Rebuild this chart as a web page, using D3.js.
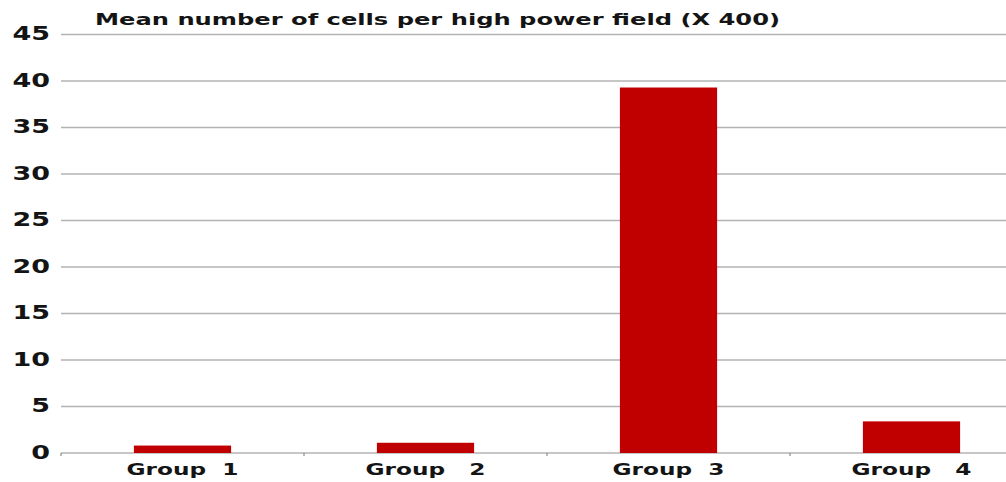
<!DOCTYPE html>
<html>
<head>
<meta charset="utf-8">
<script src="https://cdn.jsdelivr.net/npm/d3@7"></script>
<style>
  html, body { margin: 0; padding: 0; background: #ffffff; }
  svg { display: block; }
  text { font-family: "DejaVu Sans", Verdana, sans-serif; font-weight: bold; fill: #141414; }
</style>
</head>
<body>
<svg id="chart" width="1006" height="482"></svg>
<script>
const categories = ["Group  1", "Group   2", "Group  3", "Group   4"];
const values = [0.8, 1.1, 39.3, 3.4];
const yTicks = [0, 5, 10, 15, 20, 25, 30, 35, 40, 45];
const title = "Mean number of cells per high power field (X 400)";

(function () {
const svg = d3.select("#chart");
const W = 1006;
const plotLeft = 61, bandRight = 1033, gridRight = 1006;
const plotTop = 34.5, plotBottom = 453;

const x = d3.scaleBand().domain(categories).range([plotLeft, bandRight])
  .paddingInner(0.6).paddingOuter(0.3);
const y = d3.scaleLinear().domain([0, 45]).range([plotBottom, plotTop]);

function stretch(sel, k) {
  sel.each(function () {
    const w = this.getComputedTextLength();
    d3.select(this).attr("textLength", w * k).attr("lengthAdjust", "spacingAndGlyphs");
  });
}

// gridlines
svg.append("g").selectAll("line").data(yTicks).join("line")
  .attr("x1", plotLeft).attr("x2", gridRight)
  .attr("y1", d => y(d)).attr("y2", d => y(d))
  .attr("stroke", "#b3b3b3").attr("stroke-width", 1.6);

// category tick marks
const bounds = [plotLeft].concat(categories.map(c => x(c) + x.bandwidth() + x.step() * x.paddingInner() / 2));
svg.append("g").selectAll("line").data(bounds.filter(b => b < W)).join("line")
  .attr("x1", d => d).attr("x2", d => d)
  .attr("y1", plotBottom).attr("y2", plotBottom + 3)
  .attr("stroke", "#8c8c8c").attr("stroke-width", 1.2);

// bars
svg.append("g").selectAll("rect").data(values).join("rect")
  .attr("x", (d, i) => x(categories[i]))
  .attr("width", x.bandwidth())
  .attr("y", d => y(d))
  .attr("height", d => plotBottom - y(d))
  .attr("fill", "#c00000");

// y labels
const yl = svg.append("g").selectAll("text").data(yTicks).join("text")
  .attr("x", 50).attr("y", d => y(d) + 5.5)
  .attr("text-anchor", "end")
  .style("font-size", "19px")
  .text(d => d);
stretch(yl, 1.42);

// x labels
const xl = svg.append("g").selectAll("text").data(categories).join("text")
  .attr("x", d => x(d) + x.bandwidth() / 2)
  .attr("y", 475)
  .attr("text-anchor", "middle")
  .style("white-space", "pre")
  .style("font-size", "16px")
  .text(d => d);
stretch(xl, 1.45);

// title
svg.append("text")
  .attr("x", 95).attr("y", 25)
  .style("font-size", "15.5px")
  .attr("textLength", 685).attr("lengthAdjust", "spacingAndGlyphs")
  .text(title);
})();
</script>
</body>
</html>
